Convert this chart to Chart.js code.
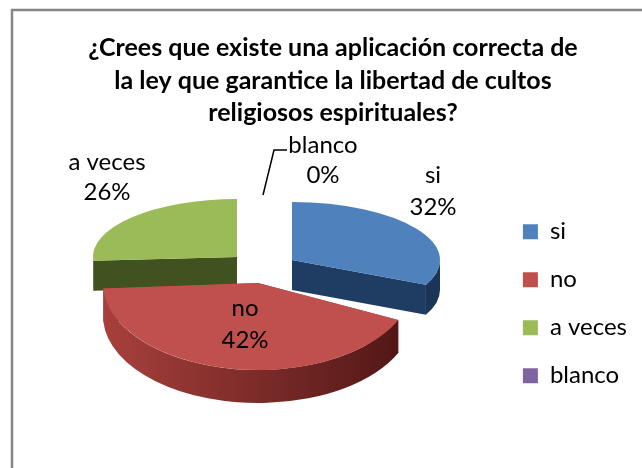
<!DOCTYPE html>
<html><head><meta charset="utf-8">
<style>html,body{margin:0;padding:0;background:#fff}canvas{display:block}</style>
<script src="https://cdn.jsdelivr.net/npm/chart.js@4"></script>
</head><body><canvas id="c" width="642" height="468"></canvas>
<script>
const titleLines = ['¿Crees que existe una aplicación correcta de','la ley que garantice la libertad de cultos','religiosos espirituales?'];
const categories = ['si','no','a veces','blanco'];
const values = [32,42,26,0];
const topColors = ['#4F81BD','#C0504D','#9BBB59','#8064A2'];
const wallColors = [['#1F3D63','#1A3557'],['#A8403D','#4E1614'],['#3F5220','#3F5220'],['#4A3A60','#4A3A60']];
// projected placement of each slice: apex centre, radii and extrusion
const sliceLook = [
  {cx:292,cy:260,rx:148,ry:58,d:30},
  {cx:258,cy:283,rx:155,ry:87,d:33},
  {cx:237,cy:257,rx:144,ry:58,d:30},
  {cx:262,cy:258,rx:146,ry:57,d:30}
];
const drawOrder = [2,0,1];
const labelLook = [
  {x:433,y1:175,y2:207},{x:245,y1:308,y2:340},{x:107,y1:162,y2:192},{x:323,y1:145,y2:175}
];
const sans='Lato, Carlito, sans-serif';
const pie3d={id:'pie3d',
  beforeDraw(ch){const g=ch.ctx;g.save();g.fillStyle='#fff';g.fillRect(0,0,642,468);g.strokeStyle='#868686';g.lineWidth=2.5;g.strokeRect(12,10,700,600);g.restore();},
  beforeDatasetsDraw(ch){
    const g=ch.ctx,arcs=ch.getDatasetMeta(0).data;
    drawOrder.forEach(i=>{
      const a=arcs[i],L=sliceLook[i];
      if(a.endAngle-a.startAngle<=0) return;
      const s=a.startAngle,e=a.endAngle;
      const pt=t=>[L.cx+L.rx*Math.cos(t),L.cy+L.ry*Math.sin(t)];
      g.fillStyle=wallColors[i][0];
      [s,e].forEach(t=>{const p=pt(t);g.beginPath();g.moveTo(L.cx,L.cy);g.lineTo(p[0],p[1]);g.lineTo(p[0],p[1]+L.d);g.lineTo(L.cx,L.cy+L.d);g.closePath();g.fill();});
      const intervals=[[s,e],[s-2*Math.PI,e-2*Math.PI],[s+2*Math.PI,e+2*Math.PI]];
      intervals.forEach(([u,v])=>{
        const lo=Math.max(u,0),hi=Math.min(v,Math.PI);
        if(hi<=lo) return;
        const gr=g.createLinearGradient(L.cx-L.rx,0,L.cx+L.rx,0);
        gr.addColorStop(0,wallColors[i][0]);gr.addColorStop(1,wallColors[i][1]);
        g.fillStyle=gr;g.beginPath();
        g.ellipse(L.cx,L.cy,L.rx,L.ry,0,lo,hi);
        g.ellipse(L.cx,L.cy+L.d,L.rx,L.ry,0,hi,lo,true);
        g.closePath();g.fill();
      });
      g.save();
      g.translate(L.cx,L.cy);g.scale(L.rx/a.outerRadius,L.ry/a.outerRadius);g.translate(-a.x,-a.y);
      a.draw(g);
      g.restore();
    });
    return false;
  },
  afterDraw(ch){
    const g=ch.ctx,total=values.reduce((p,c)=>p+c,0);
    g.save();g.fillStyle='#000';g.font='24px '+sans;g.textAlign='center';g.textBaseline='middle';
    categories.forEach((c,i)=>{const L=labelLook[i];
      g.fillText(c,L.x,L.y1);g.fillText(Math.round(values[i]/total*100)+'%',L.x,L.y2);});
    g.strokeStyle='#000';g.lineWidth=1.5;g.beginPath();g.moveTo(263,195);g.lineTo(274,150);g.lineTo(287,150);g.stroke();
    g.restore();
  }
};
new Chart(document.getElementById('c'),{
  type:'pie',
  data:{labels:categories,datasets:[{data:values,backgroundColor:topColors,borderWidth:0}]},
  options:{responsive:false,animation:false,
    layout:{padding:{top:32,right:5,left:29,bottom:0}},
    plugins:{
      tooltip:{enabled:false},
      title:{display:true,text:titleLines,color:'#000',font:{family:sans,size:25,weight:'bold',lineHeight:1.3},padding:{top:0,bottom:10}},
      legend:{position:'right',fullSize:false,onClick:null,labels:{boxWidth:15,boxHeight:15,padding:24,color:'#000',font:{family:sans,size:24}}}
    }
  },
  plugins:[pie3d]
});
</script></body></html>
